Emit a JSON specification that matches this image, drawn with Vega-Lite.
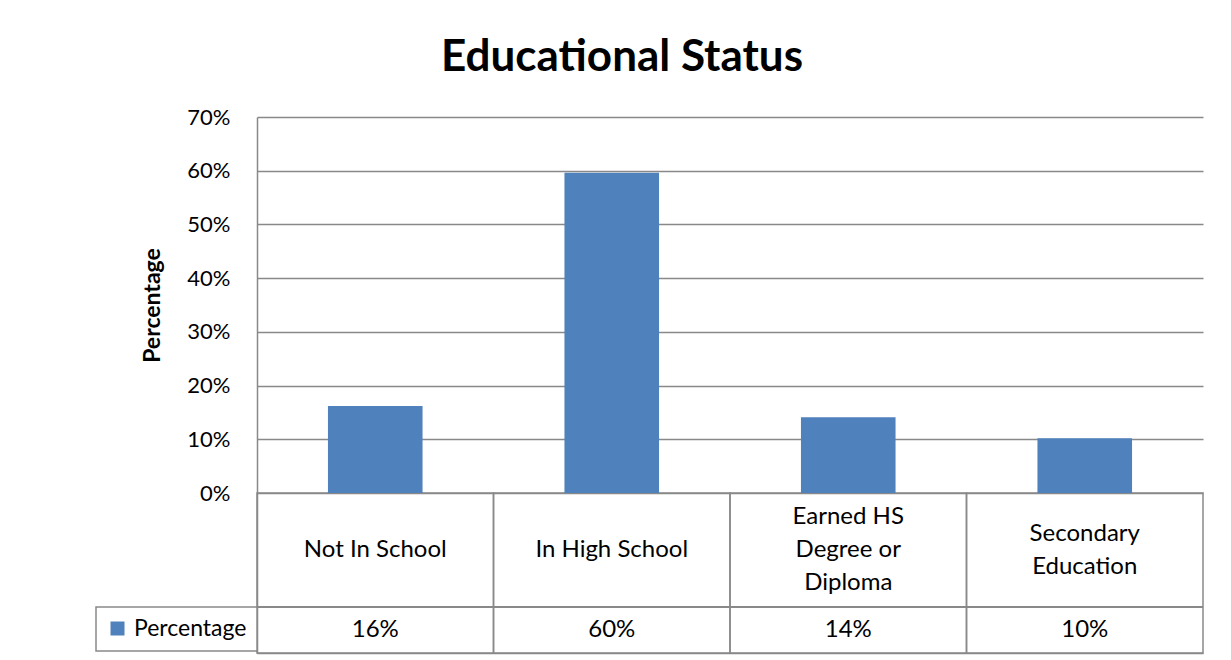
{
  "$schema": "https://vega.github.io/schema/vega-lite/v6.json",
  "width": 946,
  "height": 536,
  "autosize": "none",
  "padding": {"left": 257, "top": 117, "right": 28, "bottom": 7},
  "background": "white",
  "title": {"text": "Educational Status", "font": "Lato", "fontSize": 44, "fontWeight": "bold", "color": "black", "anchor": "middle", "dx": -108, "offset": 26},
  "data": {"values": [
    {"category": "Not In School", "label": "Not In School", "value": 0.162, "series": "Percentage"},
    {"category": "In High School", "label": "In High School", "value": 0.596, "series": "Percentage"},
    {"category": "Earned HS Degree or Diploma", "label": "Earned HS\nDegree or\nDiploma", "value": 0.141, "series": "Percentage"},
    {"category": "Secondary Education", "label": "Secondary\nEducation", "value": 0.102, "series": "Percentage"}
  ]},
  "layer": [
    {
      "mark": {"type": "bar", "width": {"band": 1}, "fill": "transparent", "stroke": "#898989", "strokeWidth": 1.5},
      "encoding": {
        "x": {"field": "category", "type": "nominal", "sort": null,
          "scale": {"paddingInner": 0, "paddingOuter": 0},
          "axis": {"labels": false, "ticks": false, "title": null, "grid": false, "domainColor": "#898989", "domainWidth": 1.5}},
        "y": {"datum": 0}, "y2": {"datum": -0.29787}}
    },
    {
      "mark": {"type": "bar", "width": {"band": 0.4}},
      "encoding": {
        "x": {"field": "category", "type": "nominal", "sort": null},
        "y": {"field": "value", "type": "quantitative",
          "scale": {"domain": [-0.29787, 0.7], "nice": false, "zero": false},
          "axis": {"values": [0, 0.1, 0.2, 0.3, 0.4, 0.5, 0.6, 0.7], "format": ".0%", "grid": true, "gridColor": "#898989", "gridWidth": 1.5,
            "domain": true, "domainColor": "#898989", "domainWidth": 1.5, "ticks": false, "tickSize": 0, "labelPadding": 27,
            "labelFont": "Lato", "labelFontSize": 22, "labelColor": "black",
            "title": "Percentage", "titleFont": "Lato", "titleFontSize": 23, "titleFontWeight": "bold", "titleColor": "black",
            "titleAngle": 270, "titleX": -105, "titleY": 188, "titleAlign": "center", "titleBaseline": "middle"}},
        "y2": {"datum": 0},
        "color": {"field": "series", "type": "nominal", "scale": {"range": ["#4F81BD"]},
          "legend": {"orient": "none", "legendX": -161, "legendY": 490, "title": null}}
      }
    },
    {
      "transform": [{"filter": "length(split(datum.label, '\\n')) == 1"}],
      "mark": {"type": "text", "font": "Lato", "fontSize": 24, "color": "black", "lineBreak": "\n", "lineHeight": 33, "baseline": "middle", "align": "center"},
      "encoding": {"x": {"field": "category", "type": "nominal", "sort": null}, "text": {"field": "label"}, "y": {"datum": -0.1061}}
    },
    {
      "transform": [{"filter": "length(split(datum.label, '\\n')) == 2"}],
      "mark": {"type": "text", "font": "Lato", "fontSize": 24, "color": "black", "lineBreak": "\n", "lineHeight": 33, "baseline": "middle", "align": "center"},
      "encoding": {"x": {"field": "category", "type": "nominal", "sort": null}, "text": {"field": "label"}, "y": {"datum": -0.0754}}
    },
    {
      "transform": [{"filter": "length(split(datum.label, '\\n')) == 3"}],
      "mark": {"type": "text", "font": "Lato", "fontSize": 24, "color": "black", "lineBreak": "\n", "lineHeight": 33, "baseline": "middle", "align": "center"},
      "encoding": {"x": {"field": "category", "type": "nominal", "sort": null}, "text": {"field": "label"}, "y": {"datum": -0.0447}}
    },
    {
      "mark": {"type": "text", "font": "Lato", "fontSize": 24, "color": "black", "baseline": "middle", "align": "center"},
      "encoding": {"x": {"field": "category", "type": "nominal", "sort": null}, "text": {"field": "value", "type": "quantitative", "format": ".0%"}, "y": {"datum": -0.2551}}
    },
    {
      "mark": {"type": "rule", "color": "#898989", "strokeWidth": 1.5},
      "encoding": {"y": {"datum": -0.2122}}
    }
  ],
  "config": {
    "font": "Lato",
    "view": {"stroke": null},
    "legend": {"symbolType": "square", "symbolSize": 196, "symbolStrokeWidth": 0, "labelFont": "Lato", "labelFontSize": 23, "labelColor": "black", "labelOffset": 5, "padding": 10, "strokeColor": "#898989", "strokeWidth": 1.5, "fillColor": "white"}
  }
}
